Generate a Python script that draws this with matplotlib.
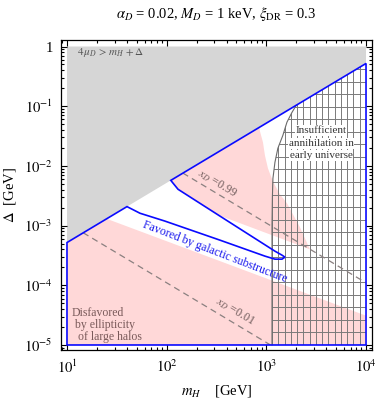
import numpy as np
import matplotlib
matplotlib.use("Agg")
import matplotlib.pyplot as plt
from matplotlib.patches import Polygon

plt.rcParams['font.family'] = ['Liberation Serif', 'DejaVu Serif']
plt.rcParams['mathtext.fontset'] = 'stix'

# --- values (m_H in GeV, Delta in GeV) ---
# 4 mu_D > m_H + Delta boundary (gray region above it)
gray_mh = [10, 1e4]
gray_delta = [5.2e-4, 0.52]

# "Favored by galactic substructure" outline (blue), with the tongue notch
blue_mh = [10, 10, 40, 54, 96, 343, 968, 1219, 1435, 1538, 1435, 1219, 343, 130, 110, 1e4, 1e4]
blue_delta = [1e-5, 5.2e-4, 2.08e-3, 1.61e-3, 1.19e-3, 5.7e-4, 3.08e-4, 2.74e-4, 2.74e-4,
              2.96e-4, 3.2e-4, 3.73e-4, 1.44e-3, 4.06e-3, 5.72e-3, 0.52, 1e-5]

# disfavored by ellipticity (pink), lower region and upper band
pink_low_mh = [10, 10, 25, 1e4, 1e4]
pink_low_delta = [1e-5, 5.2e-4, 1.3e-3, 3.1e-5, 1e-5]
pink_up_mh = [40, 2735, 2173, 1610, 1368, 1164, 1038, 968, 925, 863, 700, 40]
pink_up_delta = [5.6e-3, 4.0e-4, 9.4e-4, 2.37e-3, 3.35e-3, 5.5e-3, 9.1e-3, 0.015, 0.0248, 0.038, 0.5, 0.5]

# insufficient annihilation (hatched)
hatch_mh = [1140, 1140, 1150, 1165, 1220, 1305, 1465, 1610, 1810, 1990, 1e4, 1e4]
hatch_delta = [1e-5, 1e-3, 3e-3, 6.2e-3, 0.0115, 0.0197, 0.0325, 0.054, 0.079, 0.103, 0.52, 1e-5]

# x_D contours
xd99_mh = [145, 1e4]
xd99_delta = [7.6e-3, 1.1e-4]
xd01_mh = [14.5, 1100]
xd01_delta = [7.6e-4, 1e-5]

fig = plt.figure(figsize=(3.79, 4.01), dpi=100)
ax = fig.add_axes([61 / 379, 1 - 350 / 401, 311 / 379, 310 / 401])
ax.set_xscale('log')
ax.set_yscale('log')
ax.set_xlim(10 ** 0.94, 10 ** 4.06)
ax.set_ylim(10 ** -5.084, 10 ** 0.109)

# gray region
gx = gray_mh + [gray_mh[1], gray_mh[0]]
gy = gray_delta + [1, 1]
ax.add_patch(Polygon(np.column_stack([gx, gy]), closed=True, fc='#d6d6d6', ec='none', zorder=1))

# blue outline, used also to clip pink
blue = Polygon(np.column_stack([blue_mh, blue_delta]), closed=True, fill=False,
               ec='#0a0aff', lw=1.2, zorder=5)
ax.add_patch(blue)

for mh, dl in [(pink_low_mh, pink_low_delta), (pink_up_mh, pink_up_delta)]:
    p = Polygon(np.column_stack([mh, dl]), closed=True, fc='#ffd8d8', ec='none', zorder=2)
    ax.add_patch(p)
    p.set_clip_path(blue)

# hatched region
hatch = Polygon(np.column_stack([hatch_mh, hatch_delta]), closed=True, fill=False, ec='none')
ax.add_patch(hatch)
for lx in np.linspace(np.log10(hatch_mh[0]), 4, 16):
    ln, = ax.plot([10 ** lx, 10 ** lx], [1e-5, 1], color='#7a7a7a', lw=0.7, zorder=3)
    ln.set_clip_path(hatch)
for ly in np.arange(-5, 0, 0.21):
    ln, = ax.plot([10, 1e4], [10 ** ly, 10 ** ly], color='#7a7a7a', lw=0.7, zorder=3)
    ln.set_clip_path(hatch)
ax.plot(hatch_mh[:10], hatch_delta[:10], color='#6a6a6a', lw=0.8, zorder=3)

# x_D dashed lines
for mh, dl in [(xd99_mh, xd99_delta), (xd01_mh, xd01_delta)]:
    ax.plot(mh, dl, color='#8a8080', lw=0.9, ls=(0, (5, 3.5)), zorder=4)

# labels
tcol = '#6e5a5a'
ax.text(320, 5.1e-3, r'$x_D$ =0.99', rotation=-31, ha='center', va='center',
        fontsize=8.5, color=tcol, zorder=6)
ax.text(484, 3.7e-5, r'$x_D$ =0.01', rotation=-31, ha='center', va='center',
        fontsize=8.5, color=tcol, zorder=6)
ax.text(305, 3.6e-4, 'Favored by galactic substructure', rotation=-21, ha='center',
        va='center', fontsize=8.5, color='#1a1aee', zorder=6)
for txt, y in [('Insufficient', 0.0394), ('annihilation in', 0.0239), ('early universe', 0.0150)]:
    ax.text(3530, y, txt, ha='center', va='center', fontsize=8, color='#333333', zorder=6,
            bbox=dict(fc='white', ec='none', pad=0.6))
ax.text(11.2, 2.16e-5, 'Disfavored\n by ellipticity\n  of large halos', ha='left',
        va='center', fontsize=8.5, color='#7a5a5a', linespacing=0.95, zorder=6)
ax.text(12.6, 0.79, r'$4\,\mu_D\,>m_H\,+\Delta$', ha='left', va='center', fontsize=8,
        color='#555555', zorder=6)

fig.text(216 / 379, 1 - 14 / 401,
         r'$\alpha_D$ = 0.02, $M_D$ = 1 keV, $\xi_{\rm DR}$ = 0.3',
         ha='center', va='center', fontsize=10.5)

ax.set_xlabel(r'$m_H$    [GeV]', fontsize=10.5, labelpad=5)
ax.set_ylabel(r'$\Delta$  [GeV]', fontsize=10.5, labelpad=4)

ax.set_xticks([10, 100, 1000, 10000])
ax.set_xticklabels([r'$10^1$', r'$10^2$', r'$10^3$', r'$10^4$'])
ax.set_yticks([1e-5, 1e-4, 1e-3, 1e-2, 1e-1, 1])
ax.set_yticklabels([r'$10^{-5}$', r'$10^{-4}$', r'$10^{-3}$', r'$10^{-2}$', r'$10^{-1}$', '1'])
ax.tick_params(which='both', direction='in', top=True, right=True, labelsize=10.5, width=0.8)
ax.tick_params(which='major', length=4.5, pad=6)
ax.tick_params(which='minor', length=2.2)
for s in ax.spines.values():
    s.set_linewidth(0.9)

fig.savefig('out.png', dpi=100)
